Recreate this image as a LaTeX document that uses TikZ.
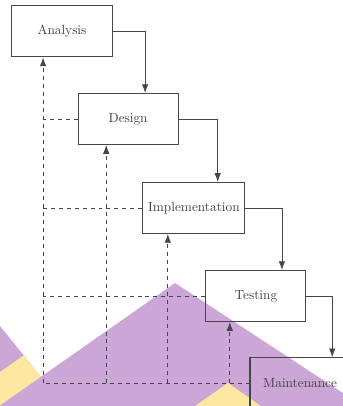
\documentclass[tikz,border=0pt]{standalone}
\usepackage{xcolor}
\usetikzlibrary{arrows.meta,calc}

\definecolor{hill}{RGB}{203,166,214}
\definecolor{sand}{RGB}{252,232,160}
\definecolor{ink}{RGB}{70,70,70}

\begin{document}
\begin{tikzpicture}[
    phase/.style={draw=ink, line width=0.8pt, text=ink!90!black,
      minimum width=2.65cm, minimum height=1.35cm, inner sep=1pt},
    flow/.style={draw=ink, line width=0.6pt, -{Latex[length=2.3mm,width=1.7mm]}},
    back/.style={draw=ink, line width=0.6pt, dashed}]
      \useasboundingbox (0, 0) rectangle (9.075, 10.742);
      \clip (0, 0) rectangle (9.075, 10.742);

      % background
      \fill[hill] (-0.5, 2.737) -- (1.5, 0.257) -- (-0.5, -0.5) -- cycle;
      \fill[sand] (-0.5, 0.549) -- (0.628, 1.339) -- (1.111, 0.741) -- (-0.5, -0.387) -- cycle;
      \fill[hill] (4.63, 3.254) -- (10.36, -0.5) -- (-0.733, -0.5) -- cycle;
      \fill[sand] (6.032, 0.609) -- (7.616, -0.5) -- (4.448, -0.5) -- cycle;

      \node[phase] (analysis) at (1.64, 9.91) {Analysis};
      \node[phase] (design) at (3.39, 7.593) {Design};
      \node[phase, minimum width=2.7cm] (impl) at (5.13, 5.24) {Implementation};
      \node[phase] (testing) at (6.77, 2.91) {Testing};
      \node[phase] (maint) at (7.94, 0.6) {Maintenance};

      \draw[flow] (analysis.east) -| ([xshift=0.45cm]design.north);
      \draw[flow] (design.east) -| ([xshift=0.63cm]impl.north);
      \draw[flow] (impl.east) -| ([xshift=0.69cm]testing.north);
      \draw[flow] (testing.east) -| ([xshift=0.85cm]maint.north);

      \coordinate (fa) at ([xshift=-0.5cm]analysis.south);
      \coordinate (fd) at ([xshift=-0.58cm]design.south);
      \coordinate (fi) at ([xshift=-0.69cm]impl.south);
      \coordinate (ft) at ([xshift=-0.69cm]testing.south);

      \draw[back] (maint.west) -- (maint.west -| fa);
      \draw[back] (design.west) -- (design.west -| fa);
      \draw[back] (impl.west) -- (impl.west -| fa);
      \draw[back] (testing.west) -- (testing.west -| fa);
      \draw[back, flow] (maint.west -| fa) -- (fa);
      \draw[back, flow] (maint.west -| fd) -- (fd);
      \draw[back, flow] (maint.west -| fi) -- (fi);
      \draw[back, flow] (maint.west -| ft) -- (ft);
    \end{tikzpicture}
\end{document}
